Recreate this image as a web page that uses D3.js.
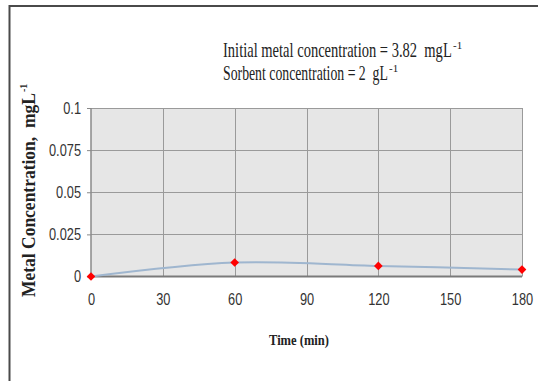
<!DOCTYPE html>
<html>
<head>
<meta charset="utf-8">
<script src="https://cdn.jsdelivr.net/npm/d3@7"></script>
<style>
  body { margin: 0; background: #fff; }
  text { white-space: pre; }
</style>
</head>
<body>
<svg id="chart" width="538" height="381"></svg>
<script>
// Residual metal concentration over contact time
const times = [0, 60, 120, 180];
const concentration = [0, 0.0083, 0.0063, 0.0041];

const xTicks = [0, 30, 60, 90, 120, 150, 180];
const yTicks = [0, 0.025, 0.05, 0.075, 0.1];
const yTickLabels = ["0", "0.025", "0.05", "0.075", "0.1"];

const note1 = "Initial metal concentration = 3.82  mgL";
const note2 = "Sorbent concentration = 2  gL";
const unitPower = "-1";
const yTitle = "Metal Concentration,  mgL";
const xTitle = "Time (min)";

const svg = d3.select("#chart");

const plot = { left: 91, right: 522, top: 108, bottom: 276.5 };

const x = d3.scaleLinear().domain([0, 180]).range([plot.left, plot.right]);
const y = d3.scaleLinear().domain([0, 0.1]).range([plot.bottom, plot.top]);

// outer frame (left and top edges)
svg.append("path")
  .attr("d", "M9.5,381 L9.5,6 L538,6")
  .attr("fill", "none")
  .attr("stroke", "#4a4a4a")
  .attr("stroke-width", 2);

// plot area background
svg.append("rect")
  .attr("x", plot.left).attr("y", plot.top)
  .attr("width", plot.right - plot.left)
  .attr("height", plot.bottom - plot.top)
  .attr("fill", "#e6e6e6");

// grid lines
const grid = svg.append("g").attr("stroke", "#9a9a9a").attr("stroke-width", 1);
grid.selectAll("line.h").data(yTicks.slice(1)).join("line")
  .attr("class", "h")
  .attr("x1", plot.left).attr("x2", plot.right)
  .attr("y1", d => Math.round(y(d)) + 0.5).attr("y2", d => Math.round(y(d)) + 0.5);
grid.selectAll("line.v").data(xTicks.slice(1)).join("line")
  .attr("class", "v")
  .attr("x1", d => Math.round(x(d)) + 0.5).attr("x2", d => Math.round(x(d)) + 0.5)
  .attr("y1", plot.top).attr("y2", plot.bottom);

// y axis with ticks and labels
const yAxis = svg.append("g")
  .attr("transform", `translate(${plot.left},0)`)
  .call(d3.axisLeft(y).tickValues(yTicks)
    .tickFormat((d, i) => yTickLabels[i]).tickSize(4).tickPadding(0));
yAxis.select(".domain").remove();
yAxis.selectAll(".tick line").attr("stroke", "#888");
yAxis.selectAll(".tick text")
  .attr("font-family", "Liberation Sans, Arial, sans-serif")
  .attr("font-size", 16)
  .attr("fill", "#333")
  .attr("x", -12.5)
  .attr("transform", "scale(0.8,1)");

// x axis labels
const xAxis = svg.append("g")
  .attr("transform", `translate(0,${plot.bottom})`)
  .call(d3.axisBottom(x).tickValues(xTicks).tickSize(0).tickPadding(0));
xAxis.select(".domain").remove();
xAxis.selectAll(".tick text")
  .attr("font-family", "Liberation Sans, Arial, sans-serif")
  .attr("font-size", 16)
  .attr("fill", "#333")
  .attr("y", 17)
  .attr("transform", "scale(0.8,1)");

// axis lines
svg.append("line")
  .attr("x1", plot.left).attr("x2", plot.left)
  .attr("y1", plot.top).attr("y2", plot.bottom)
  .attr("stroke", "#8a8a8a").attr("stroke-width", 1.5);
svg.append("line")
  .attr("x1", plot.left).attr("x2", plot.right)
  .attr("y1", plot.bottom).attr("y2", plot.bottom)
  .attr("stroke", "#7a7a7a").attr("stroke-width", 2);

// smoothed series line
const points = times.map((t, i) => [t, concentration[i]]);
svg.append("path")
  .datum(points)
  .attr("fill", "none")
  .attr("stroke", "#9fb6cf")
  .attr("stroke-width", 2)
  .attr("d", d3.line().x(d => x(d[0])).y(d => y(d[1])).curve(d3.curveCatmullRom.alpha(0)));

// markers
svg.selectAll("path.marker").data(points).join("path")
  .attr("class", "marker")
  .attr("transform", d => `translate(${x(d[0])},${y(d[1])})`)
  .attr("d", d3.symbol().type(d3.symbolDiamond2).size(48))
  .attr("fill", "#ff0000");

// condensed text: squeeze a string horizontally to a given width
const serif = "Liberation Serif, Times New Roman, serif";
function squeezed(parent, str, size, weight, width) {
  const g = parent.append("g");
  const t = g.append("text")
    .attr("font-family", serif).attr("font-size", size)
    .attr("font-weight", weight).attr("fill", "#222")
    .text(str);
  const natural = t.node().getComputedTextLength();
  t.attr("transform", `scale(${width / natural},1)`);
  return g;
}

// annotation lines with raised unit power
function note(str, width, yPos) {
  const g = svg.append("g").attr("transform", `translate(223,${yPos})`);
  squeezed(g, str, 22, "normal", width);
  g.append("text")
    .attr("x", width + 1).attr("y", -8)
    .attr("font-family", serif).attr("font-size", 11)
    .attr("fill", "#222")
    .text(unitPower);
}
note(note1, 229, 57);
note(note2, 165, 80);

// y axis title
const yt = svg.append("g").attr("transform", "translate(35,297) rotate(-90)");
squeezed(yt, yTitle, 18, "bold", 204);
yt.append("text")
  .attr("x", 205).attr("y", -8)
  .attr("font-family", serif).attr("font-size", 10).attr("font-weight", "bold")
  .attr("fill", "#222")
  .text(unitPower);

// x axis title
const xt = svg.append("g").attr("transform", "translate(269,345)");
squeezed(xt, xTitle, 15, "bold", 60);
</script>
</body>
</html>
